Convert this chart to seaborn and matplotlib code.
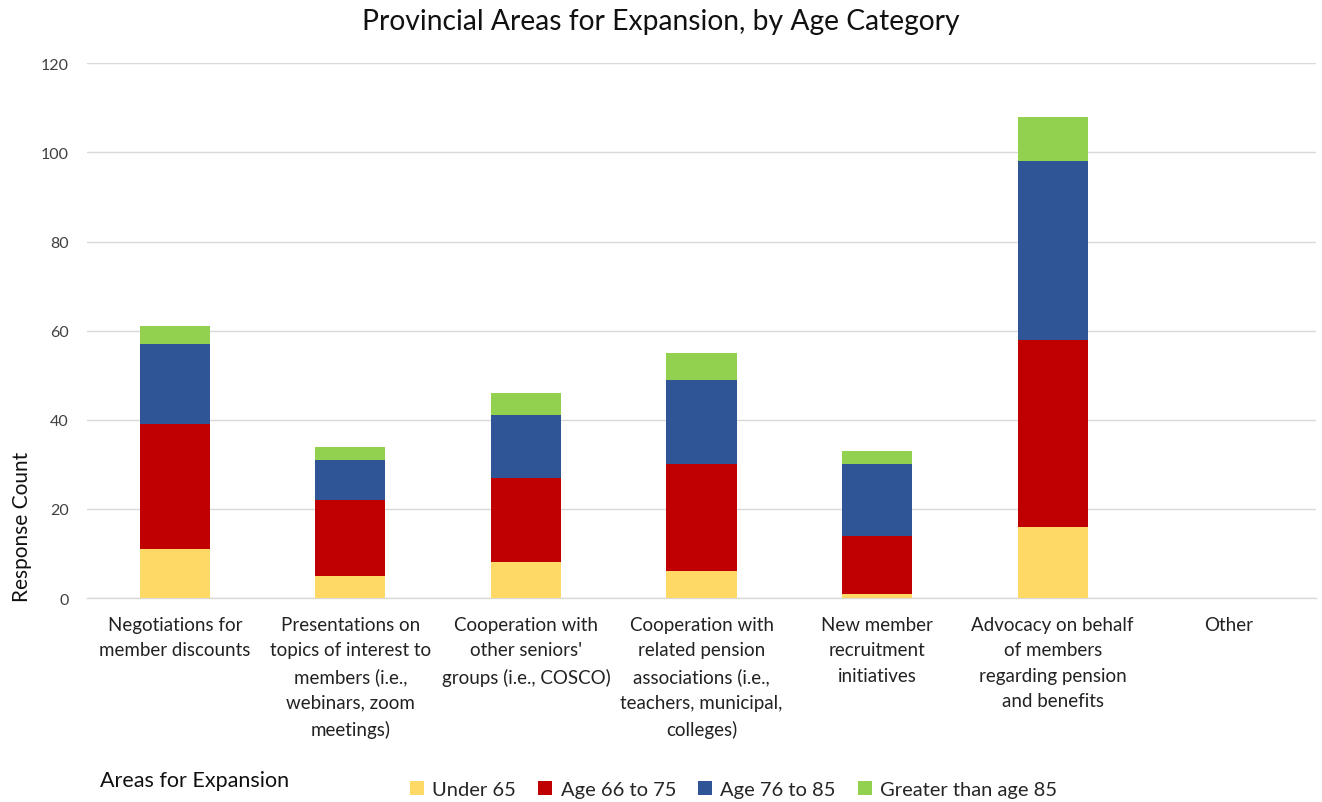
import numpy as np
import pandas as pd
import matplotlib
matplotlib.use("Agg")
import matplotlib.pyplot as plt
from matplotlib.patches import Patch
import seaborn as sns

# Survey categories (wrapped as displayed under the axis)
categories = [
    "Negotiations for\nmember discounts",
    "Presentations on\ntopics of interest to\nmembers (i.e.,\nwebinars, zoom\nmeetings)",
    "Cooperation with\nother seniors'\ngroups (i.e., COSCO)",
    "Cooperation with\nrelated pension\nassociations (i.e.,\nteachers, municipal,\ncolleges)",
    "New member\nrecruitment\ninitiatives",
    "Advocacy on behalf\nof members\nregarding pension\nand benefits",
    "Other",
]

# Response counts per age group
under_65 = [11, 5, 8, 6, 1, 16, 0]
age_66_75 = [28, 17, 19, 24, 13, 42, 0]
age_76_85 = [18, 9, 14, 19, 16, 40, 0]
over_85 = [4, 3, 5, 6, 3, 10, 0]

series_names = ["Under 65", "Age 66 to 75", "Age 76 to 85", "Greater than age 85"]
series_colors = ["#FFD966", "#C00000", "#2F5597", "#92D050"]

y_ticks = [0, 20, 40, 60, 80, 100, 120]

sns.set_theme(style="white")
plt.rcParams["font.family"] = ["Lato", "DejaVu Sans"]

layers = np.array([under_65, age_66_75, age_76_85, over_85], dtype=float)
cumulative = np.cumsum(layers, axis=0)

fig = plt.figure(figsize=(13.22, 8.03), dpi=100)
ax = fig.add_axes([0.0658, 0.254, 0.9297, 0.666])

# Stack by drawing cumulative totals from the top layer down
for i in range(len(series_names) - 1, -1, -1):
    df = pd.DataFrame({"category": categories, "total": cumulative[i]})
    sns.barplot(data=df, x="category", y="total", order=categories,
                color=series_colors[i], saturation=1, width=0.4,
                linewidth=0, ax=ax, zorder=3)

ax.set_ylim(0, 120)
ax.set_xlim(-0.5, len(categories) - 0.5)
ax.set_yticks(y_ticks)
ax.set_yticklabels([str(t) for t in y_ticks], fontsize=11.5, color="#404040")
ax.set_xticks(range(len(categories)))
ax.set_xticklabels(categories, fontsize=13.5, color="#222222", linespacing=1.6)
ax.tick_params(axis="both", length=0)
ax.tick_params(axis="y", pad=13)
ax.tick_params(axis="x", pad=13)
ax.yaxis.grid(True, color="#D9D9D9", linewidth=1, zorder=0)
ax.set_axisbelow(True)
for side in ["top", "right", "left"]:
    ax.spines[side].set_visible(False)
ax.spines["bottom"].set_color("#D9D9D9")
ax.spines["bottom"].set_linewidth(1)

ax.set_xlabel("")
ax.set_ylabel("Response Count", fontsize=15, color="#111111")
ax.yaxis.set_label_coords(-0.045, 0.135)

fig.text(0.5, 0.972, "Provincial Areas for Expansion, by Age Category",
         ha="center", va="center", fontsize=20.3, color="#111111")
fig.text(0.0756, 0.027, "Areas for Expansion", ha="left", va="center",
         fontsize=15.5, color="#111111")

handles = [Patch(facecolor=c, edgecolor="none") for c in series_colors]
fig.legend(handles, series_names, loc="center", bbox_to_anchor=(0.555, 0.016),
           ncol=4, frameon=False, fontsize=14.5, handlelength=0.7,
           handleheight=0.7, handletextpad=0.4, columnspacing=1.1)

fig.savefig("out.png", dpi=100, facecolor="white")
